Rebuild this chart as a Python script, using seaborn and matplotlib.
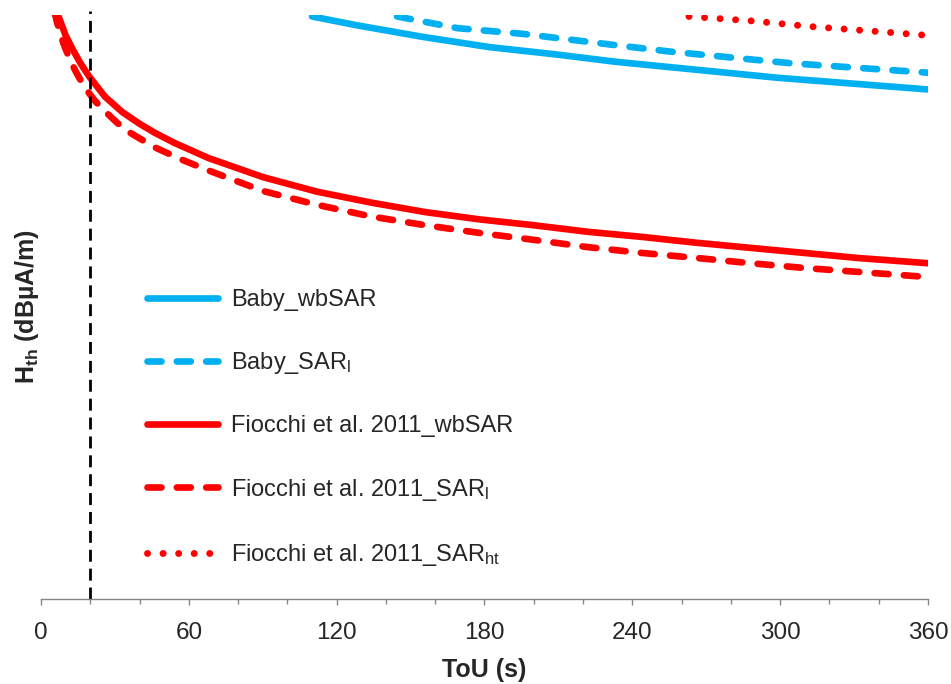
import numpy as np
import pandas as pd
import matplotlib
matplotlib.use('Agg')
import matplotlib.pyplot as plt
import seaborn as sns

sns.set_style('white')
plt.rcParams['font.family'] = ['Liberation Sans', 'DejaVu Sans']
plt.rcParams['mathtext.fontset'] = 'custom'
plt.rcParams['mathtext.rm'] = 'Liberation Sans'
plt.rcParams['mathtext.it'] = 'Liberation Sans:italic'
plt.rcParams['mathtext.bf'] = 'Liberation Sans:bold'

# ── data (y axis has no ticks, dB scale arbitrary) ──
t_fio_wb = [6, 6.9, 10, 13, 16, 19.5, 26, 33, 40, 46, 54, 68, 90, 112, 134, 156,
            178, 200, 222, 244, 266, 288, 310, 332, 360]
h_fio_wb = [130.4, 130.0, 128.6, 127.6, 126.7, 125.8, 124.4, 123.35, 122.55, 121.95,
            121.25, 120.2, 118.9, 117.9, 117.15, 116.5, 116.0, 115.6, 115.15, 114.8,
            114.4, 114.05, 113.7, 113.35, 113.0]

t_fio_l = [5.5, 6.5, 9, 11.8, 14.5, 17.9, 22, 26, 31, 36, 46, 57, 68, 90, 112, 134,
           156, 178, 200, 222, 244, 266, 288, 310, 332, 360]
h_fio_l = [130.2, 129.5, 128.1, 126.9, 126.0, 125.0, 124.1, 123.4, 122.6, 121.95,
           120.95, 120.1, 119.35, 117.95, 117.0, 116.2, 115.6, 115.07, 114.6, 114.1,
           113.7, 113.36, 113.0, 112.67, 112.4, 112.05]

t_fio_ht = [263, 288, 313, 345, 360]
h_fio_ht = [129.9, 129.6, 129.2, 128.8, 128.6]

t_baby_wb = [110, 128, 155, 182, 209, 233, 299, 360]
h_baby_wb = [129.9, 129.3, 128.5, 127.8, 127.3, 126.8, 125.7, 124.9]

t_baby_l = [144.5, 169, 196, 230, 255, 304, 360]
h_baby_l = [129.9, 129.1, 128.7, 128.0, 127.5, 126.7, 126.05]

t_cut = 20

BLUE = '#00B0F0'
RED = '#FF0000'
GREY = '#868686'

DASH = (0, (2.1, 2.3))
DOT = (0, (0.01, 2.23))

series = [
    ('Baby_wbSAR', t_baby_wb, h_baby_wb, BLUE, '-'),
    ('Baby_SAR$_\\mathrm{l}$', t_baby_l, h_baby_l, BLUE, DASH),
    ('Fiocchi et al. 2011_wbSAR', t_fio_wb, h_fio_wb, RED, '-'),
    ('Fiocchi et al. 2011_SAR$_\\mathrm{l}$', t_fio_l, h_fio_l, RED, DASH),
    ('Fiocchi et al. 2011_SAR$_\\mathrm{ht}$', t_fio_ht, h_fio_ht, RED, DOT),
]

fig = plt.figure(figsize=(9.51, 6.84), dpi=100)
ax = fig.add_axes([41/951, (684-599)/684, (928-41)/951, (599-15)/684])

for name, t, h, c, ls in series:
    df = pd.DataFrame({'t': t, 'h': h})
    lw = 5.0 if ls == DOT else 4.8
    sns.lineplot(data=df, x='t', y='h', ax=ax, color=c, lw=lw, linestyle=ls,
                 dash_capstyle='round', solid_capstyle='round',
                 solid_joinstyle='round', label=name)

ax.axvline(t_cut, ymin=0, ymax=1.007, color='black', lw=2.0,
           linestyle=(0, (4.3, 2.5)), clip_on=False)

ax.set_xlim(0, 360)
ax.set_ylim(90, 130)
ax.set_xticks(np.arange(0, 361, 60))
ax.set_xticks(np.arange(0, 361, 20), minor=True)
ax.set_yticks([])
ax.tick_params(axis='x', which='major', direction='out', length=4.5, width=1.0,
               color=GREY, labelsize=17.5, pad=12, bottom=True)
ax.tick_params(axis='x', which='minor', direction='out', length=3.5, width=1.0,
               color=GREY, bottom=True)
for s in ['top', 'right', 'left']:
    ax.spines[s].set_visible(False)
ax.spines['bottom'].set_color(GREY)
ax.spines['bottom'].set_linewidth(1.0)

ax.set_xlabel('ToU (s)', fontsize=18, fontweight='bold', labelpad=10)
ax.set_ylabel('$\\mathbf{H}_{\\mathbf{th}}$ (dBµA/m)', fontsize=18,
              fontweight='bold', labelpad=0)

leg = ax.legend(loc='center left', bbox_to_anchor=(0.1195, 0.292), frameon=False,
                fontsize=17, handlelength=3.0, handletextpad=0.55,
                labelspacing=1.66, borderpad=0, borderaxespad=0)

fig.savefig('out.png', dpi=100)
